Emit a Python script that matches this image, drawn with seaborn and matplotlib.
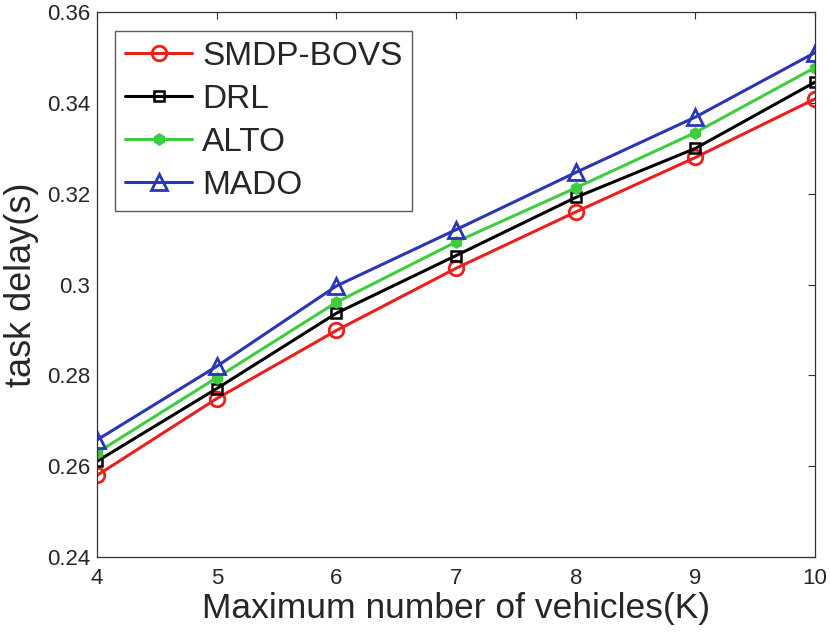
import numpy as np
import pandas as pd
import seaborn as sns
import matplotlib.pyplot as plt

# Data
vehicles = [4, 5, 6, 7, 8, 9, 10]
smdp_bovs = [0.2580, 0.2749, 0.2899, 0.3036, 0.3160, 0.3280, 0.3409]
drl = [0.2611, 0.2771, 0.2937, 0.3064, 0.3192, 0.3300, 0.3446]
alto = [0.2630, 0.2795, 0.2961, 0.3094, 0.3213, 0.3335, 0.3478]
mado = [0.2658, 0.2820, 0.2997, 0.3121, 0.3247, 0.3369, 0.3511]
y_ticks = [0.24, 0.26, 0.28, 0.30, 0.32, 0.34, 0.36]
y_tick_labels = ["0.24", "0.26", "0.28", "0.3", "0.32", "0.34", "0.36"]

series = {"SMDP-BOVS": smdp_bovs, "DRL": drl, "ALTO": alto, "MADO": mado}
df = pd.DataFrame([
    {"K": k, "delay": v, "method": name}
    for name, vals in series.items() for k, v in zip(vehicles, vals)
])

sns.set_style("white")
plt.rcParams["font.family"] = ["Liberation Sans", "DejaVu Sans"]

styles = {
    "SMDP-BOVS": dict(color="#e8211d", marker="o", mfc="none", ms=10.5, mew=2),
    "DRL": dict(color="#000000", marker="s", mfc="none", ms=7, mew=1.8),
    "ALTO": dict(color="#3fcc3f", marker="h", mfc="#3fcc3f", ms=7.5, mew=1.5),
    "MADO": dict(color="#2b36b4", marker="^", mfc="none", ms=11, mew=2),
}

fig = plt.figure(figsize=(8.3, 6.41), dpi=100)
ax = fig.add_axes([0.117, 0.131, 0.865, 0.850])

for name in series:
    st = styles[name]
    sns.lineplot(data=df[df["method"] == name], x="K", y="delay", ax=ax,
                 color=st["color"], marker=st["marker"], markersize=st["ms"],
                 markerfacecolor=st["mfc"], markeredgecolor=st["color"],
                 markeredgewidth=st["mew"], linewidth=2.2, label=name)

ax.set_xlim(4, 10)
ax.set_ylim(0.24, 0.36)
ax.set_xticks(vehicles)
ax.set_yticks(y_ticks)
ax.set_yticklabels(y_tick_labels)
ax.tick_params(direction="in", top=True, right=True, labelsize=16, length=5,
               width=0.8, colors="#333333", labelcolor="#262626")
ax.tick_params(axis="x", pad=8)
ax.tick_params(axis="y", pad=5)
for sp in ax.spines.values():
    sp.set_color("#333333")
    sp.set_linewidth(0.9)

ax.set_xlabel("Maximum number of vehicles(K)", fontsize=25.5, color="#262626", labelpad=2)
ax.set_ylabel("task delay(s)", fontsize=26, color="#262626", labelpad=6)

leg = ax.legend(loc="upper left", fontsize=24, frameon=True, fancybox=False,
                edgecolor="#333333", handlelength=2.0, borderaxespad=0.55,
                handletextpad=0.3, labelspacing=0.36, borderpad=0.3)
leg.get_frame().set_linewidth(1.0)

plt.savefig("out.png", dpi=100)
